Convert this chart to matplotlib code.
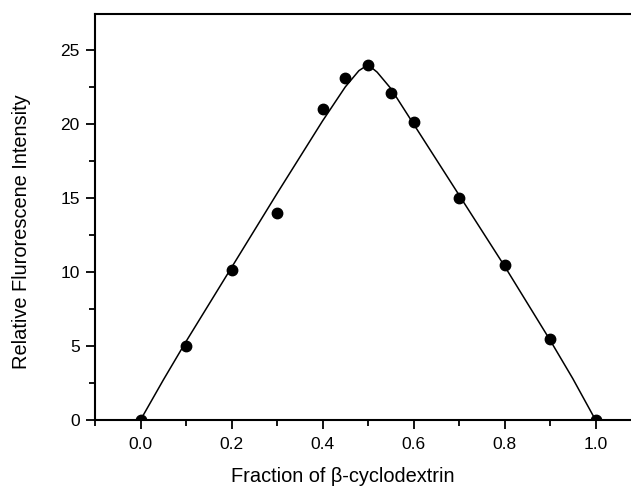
import numpy as np
import matplotlib
matplotlib.use('agg')
import matplotlib.pyplot as plt
from matplotlib.ticker import MultipleLocator

# measured points
frac = [0.0, 0.1, 0.2, 0.3, 0.4, 0.45, 0.5, 0.55, 0.6, 0.7, 0.8, 0.9, 1.0]
intensity = [0.0, 5.0, 10.1, 14.0, 21.0, 23.1, 24.0, 22.1, 20.1, 15.0, 10.5, 5.5, 0.0]

# fitted curve
fit_x = [0.0, 0.05, 0.1, 0.2, 0.3, 0.4, 0.45, 0.48, 0.5, 0.52, 0.55, 0.6, 0.7, 0.8, 0.9, 0.95, 1.0]
fit_y = [0.0, 2.7, 5.3, 10.3, 15.3, 20.2, 22.5, 23.6, 24.0, 23.5, 22.4, 20.0, 15.2, 10.4, 5.4, 2.8, 0.0]

plt.rcParams['font.family'] = ['Liberation Sans', 'DejaVu Sans']

fig = plt.figure(figsize=(6.31, 4.9), dpi=100)
ax = fig.add_axes([0.1506, 0.1429, 0.8494, 0.8286])

ax.plot(fit_x, fit_y, color='black', lw=1.1)
ax.plot(frac, intensity, 'o', color='black', ms=7.5)

ax.set_xlim(-0.1, 1.078)
ax.set_ylim(0, 27.43)
ax.xaxis.set_minor_locator(MultipleLocator(0.1))
ax.yaxis.set_major_locator(MultipleLocator(5))
ax.yaxis.set_minor_locator(MultipleLocator(2.5))
ax.set_xticks([0.0, 0.2, 0.4, 0.6, 0.8, 1.0])
ax.set_xticklabels(['0.0', '0.2', '0.4', '0.6', '0.8', '1.0'])

ax.spines['right'].set_visible(False)
for s in ['left', 'bottom', 'top']:
    ax.spines[s].set_linewidth(1.5)

ax.tick_params(which='major', direction='out', length=6.5, width=1.3, labelsize=12.5)
ax.tick_params(axis='x', which='major', pad=6)
ax.tick_params(axis='y', which='major', pad=4.5)
ax.tick_params(which='minor', direction='out', length=4, width=1.3)

ax.set_xlabel('Fraction of β-cyclodextrin', fontsize=14.4, va='center')
ax.set_ylabel('Relative Flurorescene Intensity', fontsize=14.4, va='center')
ax.xaxis.set_label_coords(0.463, -0.140)
ax.yaxis.set_label_coords(-0.138, 0.463)

fig.savefig('out.png', dpi=100)
